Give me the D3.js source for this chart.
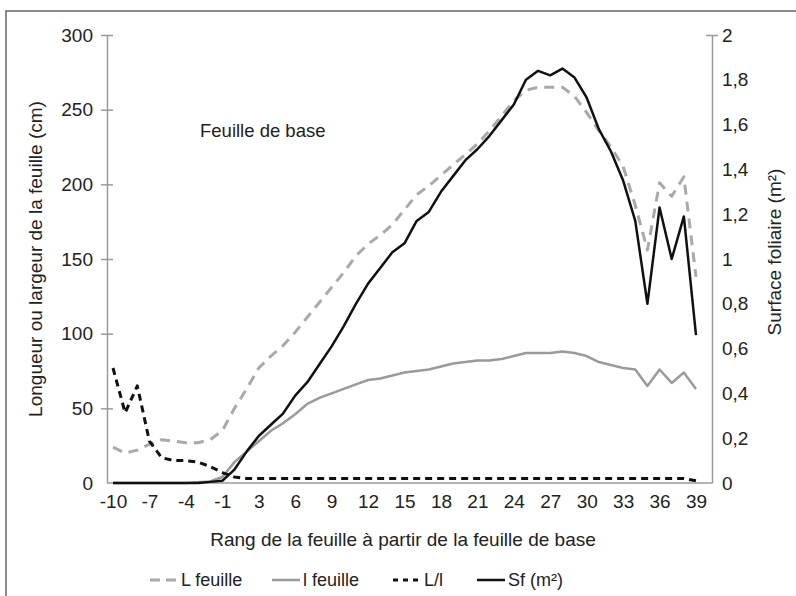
<!DOCTYPE html>
<html>
<head>
<meta charset="utf-8">
<script src="https://cdn.jsdelivr.net/npm/d3@7"></script>
<style>
  body { margin: 0; background: #fff; }
  svg { font-family: "Liberation Sans", Arial, sans-serif; }
</style>
</head>
<body>
<svg id="chart" width="796" height="596"></svg>
<script>
// rank of the leaf counted from the base leaf (no rank 0)
const ranks = [-10, -9, -8, -7, -6, -5, -4, -3, -2, -1,
  1, 2, 3, 4, 5, 6, 7, 8, 9, 10, 11, 12, 13, 14, 15, 16, 17, 18, 19, 20,
  21, 22, 23, 24, 25, 26, 27, 28, 29, 30, 31, 32, 33, 34, 35, 36, 37, 38, 39];

const xTicks = [-10, -7, -4, -1, 3, 6, 9, 12, 15, 18, 21, 24, 27, 30, 33, 36, 39];
const leftTicks = [0, 50, 100, 150, 200, 250, 300];
const rightTicks = [0, 0.2, 0.4, 0.6, 0.8, 1, 1.2, 1.4, 1.6, 1.8, 2];

// L feuille (cm)
const longueur = [24, 20, 22, 26, 29, 28, 27, 27, 29, 35,
  50, 63, 77, 85, 92, 101, 111, 121, 131, 141, 152, 160, 166, 173, 183, 193, 199, 206, 213, 220,
  227, 236, 246, 256, 263, 265, 265, 265, 259, 248, 236, 225, 212, 186, 156, 201, 192, 205, 138];

// l feuille (cm)
const largeur = [0, 0, 0, 0, 0, 0, 0, 0.5, 1, 4,
  14, 21, 28, 35, 40, 46, 53, 57, 60, 63, 66, 69, 70, 72, 74, 75, 76, 78, 80, 81,
  82, 82, 83, 85, 87, 87, 87, 88, 87, 85, 81, 79, 77, 76, 65, 76, 67, 74, 63];

// L/l
const ratio = [77, 47, 65, 28, 17, 15, 15, 14, 11, 7,
  4, 3, 3, 3, 3, 3, 3, 3, 3, 3, 3, 3, 3, 3, 3, 3, 3, 3, 3, 3,
  3, 3, 3, 3, 3, 3, 3, 3, 3, 3, 3, 3, 3, 3, 3, 3, 3, 3, 1.5];

// Sf (m2)
const surface = [0, 0, 0, 0, 0, 0, 0, 0, 0.005, 0.01,
  0.06, 0.14, 0.21, 0.26, 0.31, 0.39, 0.45, 0.53, 0.61, 0.70, 0.80, 0.89, 0.96, 1.03, 1.07, 1.17, 1.21, 1.30, 1.37, 1.44,
  1.49, 1.55, 1.62, 1.69, 1.80, 1.84, 1.82, 1.85, 1.81, 1.72, 1.58, 1.48, 1.35, 1.17, 0.80, 1.23, 1.00, 1.19, 0.66];

const svg = d3.select("#chart");
const axisColor = "#9a9a9a";
const textColor = "#222";

// outer frame (only top and left edges are visible)
svg.append("path")
  .attr("d", "M6,596 V11 H796")
  .attr("fill", "none")
  .attr("stroke", "#666")
  .attr("stroke-width", 1.5);

const plot = { left: 107, right: 712, top: 35, bottom: 483 };

const x = d3.scalePoint().domain(ranks).range([113, 696]);
const y = d3.scaleLinear().domain([0, 300]).range([plot.bottom, plot.top]);
const y2 = d3.scaleLinear().domain([0, 2]).range([plot.bottom, plot.top]);

// left axis
const gLeft = svg.append("g")
  .attr("transform", "translate(" + plot.left + ",0)")
  .call(d3.axisLeft(y).tickValues(leftTicks).tickSize(6).tickPadding(8).tickSizeOuter(0));
gLeft.select(".domain").attr("stroke", axisColor).attr("stroke-width", 1.5);
gLeft.selectAll(".tick line")
  .attr("x1", -6).attr("x2", 6)
  .attr("stroke", axisColor).attr("stroke-width", 1.5)
  .filter(d => d === 0).remove();
gLeft.selectAll("text").attr("font-size", 19).attr("fill", textColor);

// right axis
const gRight = svg.append("g")
  .attr("transform", "translate(" + plot.right + ",0)")
  .call(d3.axisRight(y2).tickValues(rightTicks).tickSize(6).tickPadding(4).tickSizeOuter(0)
    .tickFormat(d => String(+d.toFixed(1)).replace(".", ",")));
gRight.select(".domain").attr("stroke", axisColor).attr("stroke-width", 1.5);
gRight.selectAll(".tick line")
  .attr("x1", -6).attr("x2", 6)
  .attr("stroke", axisColor).attr("stroke-width", 1.5)
  .filter(d => d !== 2).remove();
gRight.selectAll("text").attr("font-size", 19).attr("fill", textColor);

// bottom axis
const gBottom = svg.append("g")
  .attr("transform", "translate(0," + plot.bottom + ")")
  .call(d3.axisBottom(x).tickValues(xTicks).tickSize(0).tickPadding(12));
gBottom.select(".domain").remove();
gBottom.append("line")
  .attr("x1", plot.left).attr("x2", plot.right)
  .attr("stroke", axisColor).attr("stroke-width", 1.5);
gBottom.selectAll("text").attr("font-size", 19).attr("fill", textColor);

// series
const series = [
  { name: "L feuille", values: longueur, scale: y, color: "#a9a9a9", width: 3, dash: "10,7" },
  { name: "l feuille", values: largeur, scale: y, color: "#9a9a9a", width: 2.5, dash: null },
  { name: "L/l", values: ratio, scale: y, color: "#111", width: 3, dash: "7,5" },
  { name: "Sf (m²)", values: surface, scale: y2, color: "#111", width: 2.5, dash: null }
];

series.forEach(s => {
  const line = d3.line()
    .x((d, i) => x(ranks[i]))
    .y(d => s.scale(d));
  svg.append("path")
    .datum(s.values)
    .attr("d", line)
    .attr("fill", "none")
    .attr("stroke", s.color)
    .attr("stroke-width", s.width)
    .attr("stroke-linejoin", "round")
    .attr("stroke-dasharray", s.dash);
});

// titles
svg.append("text")
  .attr("transform", "translate(42,259) rotate(-90)")
  .attr("text-anchor", "middle")
  .attr("font-size", 19)
  .attr("fill", textColor)
  .text("Longueur ou largeur de la feuille (cm)");

svg.append("text")
  .attr("transform", "translate(781,252) rotate(-90)")
  .attr("text-anchor", "middle")
  .attr("font-size", 19)
  .attr("fill", textColor)
  .text("Surface foliaire (m²)");

svg.append("text")
  .attr("x", 403).attr("y", 546)
  .attr("text-anchor", "middle")
  .attr("font-size", 19)
  .attr("fill", textColor)
  .text("Rang de la feuille à partir de la feuille de base");

svg.append("text")
  .attr("x", 200).attr("y", 137)
  .attr("font-size", 18.5)
  .attr("fill", textColor)
  .text("Feuille de base");

// legend
const legendX = [150, 272, 393, 477];
const legend = svg.append("g").attr("transform", "translate(0,586)");
series.forEach((s, i) => {
  legend.append("line")
    .attr("x1", legendX[i]).attr("x2", legendX[i] + 28)
    .attr("y1", -6).attr("y2", -6)
    .attr("stroke", s.color)
    .attr("stroke-width", s.width)
    .attr("stroke-dasharray", s.dash ? (i === 0 ? "10,6" : "5,5") : null);
  legend.append("text")
    .attr("x", legendX[i] + 31)
    .attr("font-size", 18)
    .attr("fill", textColor)
    .text(s.name);
});
</script>
</body>
</html>
